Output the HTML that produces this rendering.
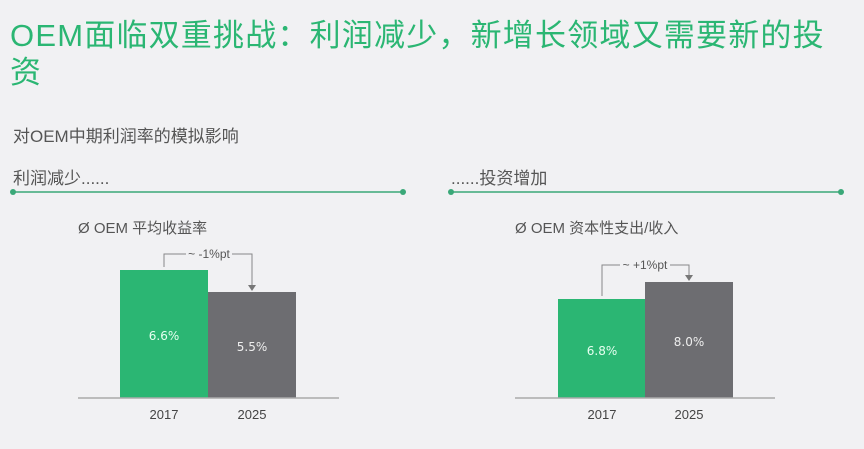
<!DOCTYPE html>
<html><head><meta charset="utf-8"><style>
body{margin:0;width:864px;height:449px;background:#f1f1f3;overflow:hidden;position:relative;font-family:"Liberation Sans","Noto Sans CJK SC",sans-serif;}
.t{position:absolute;white-space:nowrap;}
</style></head><body>
<div class="t" style="left:10px;top:17px;font-size:31px;line-height:37px;color:#2bb673;letter-spacing:1.2px;">OEM面临双重挑战：利润减少，新增长领域又需要新的投<br>资</div>
<div class="t" style="left:13px;top:122px;font-size:17px;color:#555;">对OEM中期利润率的模拟影响</div>
<div class="t" style="left:13px;top:164px;font-size:17px;color:#555;">利润减少......</div>
<div class="t" style="left:451px;top:164px;font-size:17px;color:#555;">......投资增加</div>
<div class="t" style="left:78px;top:217px;font-size:15px;color:#555;">Ø OEM 平均收益率</div>
<div class="t" style="left:515px;top:217px;font-size:15px;color:#555;">Ø OEM 资本性支出/收入</div>
<svg width="864" height="449" style="position:absolute;left:0;top:0">
<g stroke="#3aa878" stroke-width="1.5"><line x1="13" y1="192" x2="403" y2="192"/><line x1="451" y1="192" x2="841" y2="192"/></g>
<g fill="#3aa878"><circle cx="13" cy="192" r="3"/><circle cx="403" cy="192" r="3"/><circle cx="451" cy="192" r="3"/><circle cx="841" cy="192" r="3"/></g>
<rect x="120" y="270" width="88" height="128" fill="#2bb673"/>
<rect x="208" y="292" width="88" height="106" fill="#6d6d71"/>
<line x1="78" y1="398" x2="339" y2="398" stroke="#aaa" stroke-width="1.5"/>
<rect x="558" y="299" width="87" height="99" fill="#2bb673"/>
<rect x="645" y="282" width="88" height="116" fill="#6d6d71"/>
<line x1="515" y1="398" x2="775" y2="398" stroke="#aaa" stroke-width="1.5"/>
<g stroke="#888" fill="none" stroke-width="1">
<polyline points="164,267 164,254 186,254"/><polyline points="232,254 252,254 252,286"/>
<polyline points="602,296 602,265 620,265"/><polyline points="670,265 689,265 689,276"/>
</g>
<g fill="#777"><polygon points="248,285 256,285 252,291"/><polygon points="685,275 693,275 689,281"/></g>
<g font-family="Liberation Sans, sans-serif" font-size="12" fill="#555" text-anchor="middle">
<text x="209" y="258">~ -1%pt</text><text x="645" y="269">~ +1%pt</text>
</g>
<g font-family="DejaVu Sans, sans-serif" font-size="12" text-anchor="middle">
<text x="164" y="340" fill="#e6fff0">6.6%</text><text x="252" y="351" fill="#eee">5.5%</text>
<text x="602" y="355" fill="#e6fff0">6.8%</text><text x="689" y="346" fill="#eee">8.0%</text>
</g>
<g font-family="Liberation Sans, sans-serif" font-size="13" fill="#444" text-anchor="middle">
<text x="164" y="419">2017</text><text x="252" y="419">2025</text>
<text x="602" y="419">2017</text><text x="689" y="419">2025</text>
</g>
</svg>
</body></html>
